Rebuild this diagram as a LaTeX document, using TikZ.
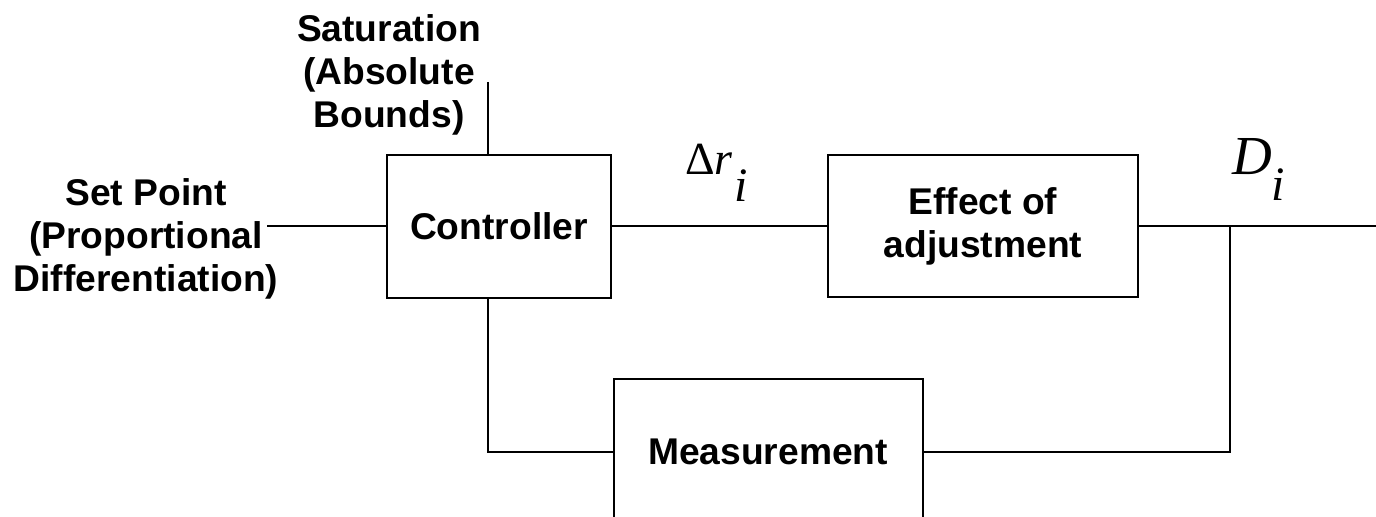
\documentclass[tikz,border=0pt]{standalone}
\usepackage{fontspec}
\setmainfont{Liberation Sans}
\newfontfamily\timesfont{Liberation Serif}
\begin{document}
\begin{tikzpicture}[x=0.5pt,y=-0.5pt,line width=1pt]
\tikzstyle{block}=[draw, rectangle, fill=white, align=center, inner sep=0pt, font=\bfseries\fontsize{18.6}{21.5}\selectfont]
\tikzstyle{caption}=[align=center, inner sep=0pt, font=\bfseries\fontsize{18.6}{21.5}\selectfont]
\tikzstyle{signal}=[anchor=base west, inner sep=0pt]

\useasboundingbox (0,0) rectangle (1376,517);
\clip (0,0) rectangle (1376,517);

\node[block, minimum width=112pt, minimum height=71.5pt] (ctrl) at (499,226.5) {Controller};
\node[block, minimum width=155pt, minimum height=71pt] (eff) at (983,226.5) {Effect of\\adjustment};
\node[block, minimum width=154.5pt, minimum height=73pt] (meas) at (768,452) {Measurement};

\node[caption] (setpt) at (146,239) {Set Point\\(Proportional\\Differentiation)};
\node[caption] (sat) at (389,75) {Saturation\\(Absolute\\Bounds)};

\node[signal, font=\timesfont\fontsize{23}{23}\selectfont] (dr) at (684,175)
  {Δ\textit{r}\hspace{1pt}\raisebox{-13.5pt}{\fontsize{24}{24}\selectfont\textit{i}}};
\node[signal, font=\timesfont\fontsize{27.5}{27.5}\selectfont] (di) at (1231,175)
  {\textit{D}\raisebox{-13pt}{\fontsize{24}{24}\selectfont\textit{i}}};

\coordinate (in) at (267,226.5);
\coordinate (top) at (488,82);
\coordinate (junc) at (1230,226.5);
\coordinate (out) at (1376,226.5);

\draw (in) -- (ctrl.west);
\draw (top) -- (top |- ctrl.north);
\draw (ctrl.east) -- (eff.west);
\draw (eff.east) -- (out);
\draw (junc) |- (meas.east);
\draw (top |- ctrl.south) |- (meas.west);

\end{tikzpicture}
\end{document}
